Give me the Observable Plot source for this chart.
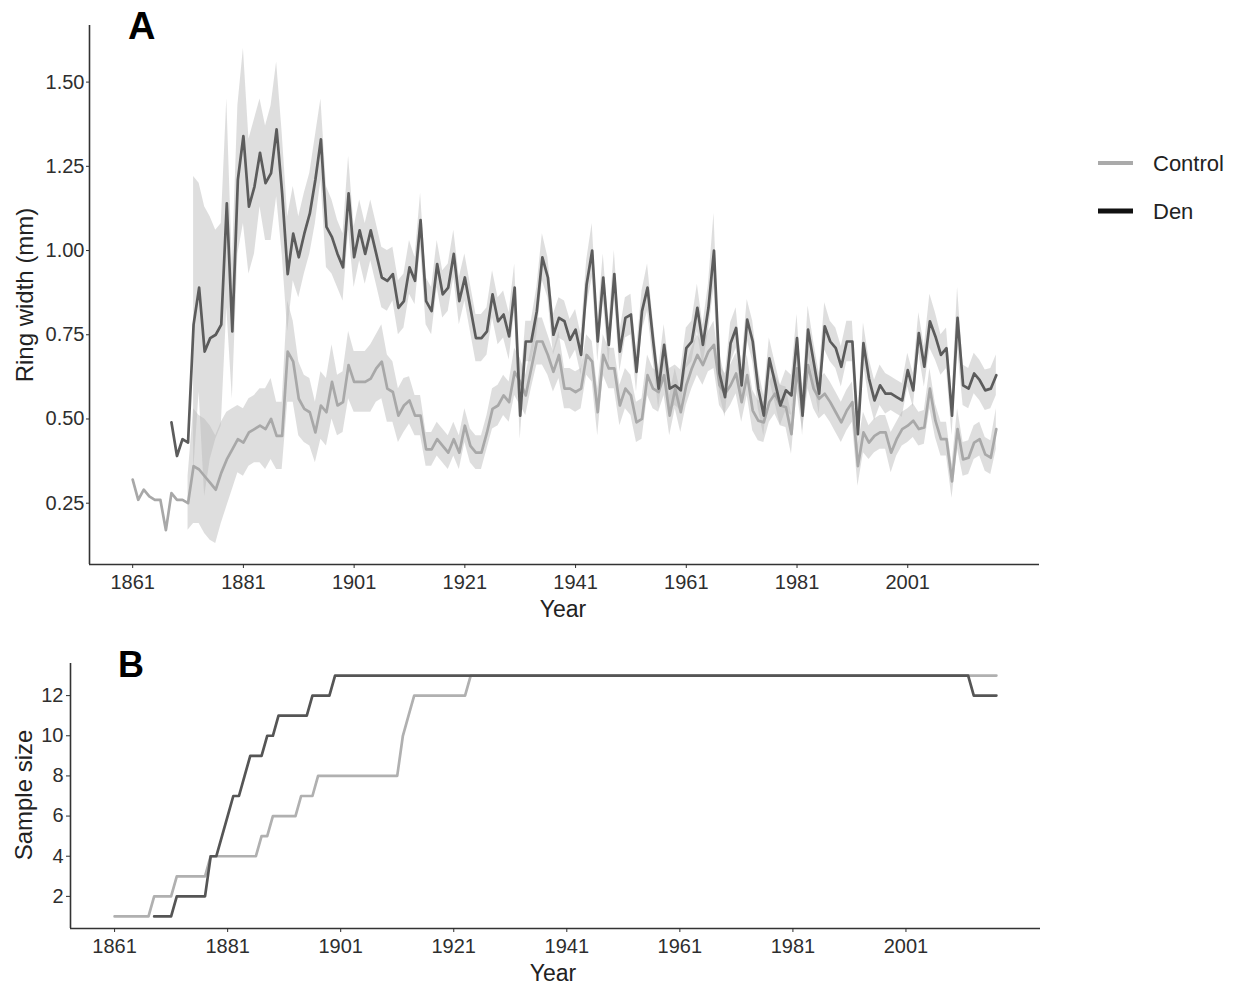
<!DOCTYPE html>
<html>
<head>
<meta charset="utf-8">
<script src="https://cdn.jsdelivr.net/npm/d3@7"></script>
<script src="https://cdn.jsdelivr.net/npm/@observablehq/plot@0.6"></script>
<style>
  body { margin: 0; background: #fff; }
  #wrap { position: relative; width: 1235px; height: 989px; overflow: hidden; }
  #wrap svg { position: absolute; left: 0; }
</style>
</head>
<body>
<div id="wrap"></div>
<script>
// ---------------- DATA ----------------
const controlStart = 1861;
const denStart = 1868;

// Panel A: mean ring width (mm)
const controlWidth = [
  0.32,0.26,0.29,0.27,0.26,0.26,0.17,0.28,0.26,0.26,
  0.25,0.36,0.35,0.33,0.31,0.29,0.34,0.38,0.41,0.44,
  0.43,0.46,0.47,0.48,0.47,0.50,0.45,0.45,0.70,0.67,
  0.56,0.53,0.52,0.46,0.54,0.52,0.61,0.54,0.55,0.66,
  0.61,0.61,0.61,0.62,0.65,0.67,0.59,0.58,0.51,0.54,
  0.555,0.51,0.51,0.41,0.41,0.44,0.42,0.40,0.44,0.40,
  0.48,0.42,0.40,0.40,0.46,0.53,0.54,0.57,0.55,0.64,
  0.61,0.57,0.65,0.73,0.73,0.69,0.64,0.69,0.59,0.59,
  0.58,0.59,0.69,0.67,0.52,0.69,0.65,0.65,0.54,0.59,
  0.57,0.49,0.50,0.63,0.59,0.58,0.63,0.51,0.59,0.52,
  0.60,0.65,0.69,0.66,0.70,0.72,0.60,0.575,0.60,0.635,
  0.55,0.63,0.525,0.495,0.49,0.55,0.575,0.54,0.535,0.455,
  0.65,0.525,0.66,0.59,0.56,0.575,0.55,0.52,0.49,0.525,
  0.55,0.36,0.46,0.43,0.45,0.46,0.46,0.40,0.44,0.47,
  0.48,0.495,0.47,0.475,0.59,0.495,0.44,0.44,0.315,0.47,
  0.38,0.385,0.43,0.44,0.395,0.385,0.47
];
const controlSE = [
  0,0,0,0,0,0,0,0,0,0,
  0.08,0.17,0.16,0.17,0.17,0.16,0.15,0.14,0.12,0.10,
  0.10,0.10,0.10,0.11,0.12,0.12,0.10,0.10,0.15,0.12,
  0.11,0.10,0.10,0.09,0.10,0.10,0.11,0.09,0.09,0.10,
  0.09,0.09,0.09,0.10,0.10,0.11,0.10,0.09,0.08,0.08,
  0.07,0.06,0.06,0.05,0.05,0.05,0.05,0.05,0.05,0.05,
  0.05,0.05,0.05,0.05,0.05,0.06,0.06,0.06,0.06,0.07,
  0.07,0.06,0.06,0.07,0.07,0.06,0.06,0.07,0.06,0.06,
  0.06,0.06,0.06,0.06,0.07,0.06,0.06,0.06,0.06,0.06,
  0.06,0.06,0.06,0.06,0.06,0.06,0.06,0.06,0.06,0.06,
  0.06,0.06,0.06,0.06,0.06,0.07,0.06,0.06,0.06,0.06,
  0.06,0.06,0.06,0.06,0.06,0.06,0.06,0.06,0.06,0.06,
  0.07,0.06,0.07,0.06,0.06,0.06,0.06,0.06,0.06,0.06,
  0.06,0.06,0.06,0.05,0.05,0.05,0.05,0.06,0.05,0.05,
  0.05,0.05,0.05,0.05,0.06,0.05,0.05,0.05,0.05,0.06,
  0.05,0.05,0.05,0.05,0.05,0.05,0.06
];
const denWidth = [
  0.49,0.39,0.44,
  0.43,0.78,0.89,0.70,0.74,0.75,0.78,1.14,0.76,1.21,
  1.34,1.13,1.19,1.29,1.20,1.23,1.36,1.17,0.93,1.05,
  0.98,1.05,1.11,1.21,1.33,1.07,1.04,0.99,0.95,1.17,
  0.98,1.06,0.99,1.06,0.99,0.92,0.91,0.93,0.83,0.85,
  0.95,0.91,1.09,0.85,0.82,0.96,0.87,0.89,0.99,0.85,
  0.92,0.83,0.74,0.74,0.76,0.87,0.79,0.81,0.745,0.89,
  0.51,0.73,0.73,0.82,0.98,0.92,0.75,0.80,0.79,0.735,
  0.765,0.69,0.90,1.00,0.73,0.92,0.72,0.93,0.70,0.80,
  0.81,0.64,0.82,0.89,0.735,0.59,0.72,0.59,0.60,0.585,
  0.71,0.73,0.83,0.72,0.83,1.00,0.635,0.565,0.725,0.77,
  0.60,0.795,0.73,0.59,0.51,0.68,0.61,0.54,0.585,0.57,
  0.74,0.51,0.765,0.67,0.575,0.775,0.73,0.71,0.655,0.73,
  0.73,0.455,0.725,0.62,0.555,0.60,0.575,0.575,0.565,0.555,
  0.645,0.585,0.755,0.655,0.79,0.745,0.69,0.71,0.51,0.80,
  0.60,0.59,0.635,0.615,0.585,0.59,0.63
];
const denSE = [
  0,0,0,
  0,0.44,0.31,0.43,0.36,0.31,0.30,0.31,0.20,0.22,
  0.26,0.20,0.20,0.16,0.17,0.20,0.20,0.18,0.17,0.14,
  0.12,0.12,0.12,0.13,0.12,0.12,0.11,0.10,0.10,0.11,
  0.09,0.09,0.09,0.09,0.09,0.09,0.09,0.08,0.08,0.08,
  0.08,0.07,0.08,0.07,0.07,0.07,0.07,0.07,0.07,0.07,
  0.07,0.07,0.07,0.07,0.07,0.07,0.07,0.07,0.07,0.07,
  0.07,0.06,0.06,0.07,0.07,0.06,0.06,0.06,0.06,0.06,
  0.06,0.06,0.07,0.08,0.06,0.07,0.06,0.07,0.06,0.06,
  0.06,0.06,0.06,0.07,0.06,0.06,0.06,0.06,0.06,0.06,
  0.06,0.06,0.07,0.06,0.07,0.11,0.06,0.06,0.06,0.06,
  0.06,0.06,0.06,0.06,0.06,0.06,0.06,0.06,0.06,0.06,
  0.07,0.06,0.07,0.06,0.06,0.07,0.06,0.06,0.06,0.06,
  0.06,0.06,0.06,0.06,0.06,0.06,0.06,0.05,0.05,0.05,
  0.05,0.05,0.06,0.06,0.08,0.07,0.06,0.06,0.06,0.09,
  0.06,0.06,0.06,0.06,0.06,0.06,0.06
];

// Panel B: sample size per year
const controlN = [
  1,1,1,1,1,1,1,2,2,2,
  2,3,3,3,3,3,3,4,4,4,
  4,4,4,4,4,4,5,5,6,6,
  6,6,6,7,7,7,8,8,8,8,
  8,8,8,8,8,8,8,8,8,8,
  8,10,11,12,12,12,12,12,12,12,
  12,12,12,13,13,13,13,13,13,13,
  13,13,13,13,13,13,13,13,13,13,
  13,13,13,13,13,13,13,13,13,13,
  13,13,13,13,13,13,13,13,13,13,
  13,13,13,13,13,13,13,13,13,13,
  13,13,13,13,13,13,13,13,13,13,
  13,13,13,13,13,13,13,13,13,13,
  13,13,13,13,13,13,13,13,13,13,
  13,13,13,13,13,13,13,13,13,13,
  13,13,13,13,13,13,13
];
const denN = [
  1,1,1,
  1,2,2,2,2,2,2,4,4,5,
  6,7,7,8,9,9,9,10,10,11,
  11,11,11,11,11,12,12,12,12,13,
  13,13,13,13,13,13,13,13,13,13,
  13,13,13,13,13,13,13,13,13,13,
  13,13,13,13,13,13,13,13,13,13,
  13,13,13,13,13,13,13,13,13,13,
  13,13,13,13,13,13,13,13,13,13,
  13,13,13,13,13,13,13,13,13,13,
  13,13,13,13,13,13,13,13,13,13,
  13,13,13,13,13,13,13,13,13,13,
  13,13,13,13,13,13,13,13,13,13,
  13,13,13,13,13,13,13,13,13,13,
  13,13,13,13,13,13,13,13,13,13,
  13,13,12,12,12,12,12
];

const seriesNames = ["Control", "Den"];
const xTicks = [1861, 1881, 1901, 1921, 1941, 1961, 1981, 2001];
const ringTicks = [0.25, 0.50, 0.75, 1.00, 1.25, 1.50];
const sizeTicks = [2, 4, 6, 8, 10, 12];

// ---------------- BUILD TABLES ----------------
const ring = [];
controlWidth.forEach((v, i) => ring.push({series: "Control", year: controlStart + i, value: v, se: controlSE[i]}));
denWidth.forEach((v, i) => ring.push({series: "Den", year: denStart + i, value: v, se: denSE[i]}));
const sizes = [];
controlN.forEach((n, i) => sizes.push({series: "Control", year: controlStart + i, n}));
denN.forEach((n, i) => sizes.push({series: "Den", year: denStart + i, n}));

const xDomain = [1853.2, 2024.8];
const font = '"Liberation Sans", Arial, Helvetica, sans-serif';
const lineColors = ["#a8a8a8", "#5c5c5c"];
const wrap = document.getElementById("wrap");

// ---------------- PANEL A ----------------
const yA = [0.068, 1.668];
const plotA = Plot.plot({
  width: 1060, height: 620,
  marginLeft: 89, marginRight: 21, marginTop: 25, marginBottom: 56,
  style: {fontFamily: font, fontSize: "20px", color: "#2e2e2e", background: "transparent", overflow: "visible"},
  x: {domain: xDomain},
  y: {domain: yA},
  color: {domain: seriesNames, range: lineColors},
  marks: [
    Plot.areaY(ring.filter(d => d.se > 0), {
      x: "year", y1: d => d.value - d.se, y2: d => d.value + d.se,
      z: "series", fill: "#bababa", fillOpacity: 0.48
    }),
    Plot.lineY(ring, {x: "year", y: "value", z: "series", stroke: "series", strokeWidth: 2.7, strokeLinejoin: "round"}),
    Plot.ruleY([yA[0]], {stroke: "#333", strokeWidth: 1.6}),
    Plot.ruleX([xDomain[0]], {stroke: "#333", strokeWidth: 1.6}),
    Plot.axisX({ticks: xTicks, tickFormat: d => String(d), tickSize: 4, tickPadding: 6, fontSize: 20, label: null}),
    Plot.axisY({ticks: ringTicks, tickFormat: d3.format(".2f"), tickSize: 3, tickPadding: 2, fontSize: 20, label: null})
  ]
});
plotA.style.top = "0px";
wrap.appendChild(plotA);

// ---------------- PANEL B ----------------
const yB = [0.4, 13.6];
const plotB = Plot.plot({
  width: 1060, height: 359,
  marginLeft: 70, marginRight: 20, marginTop: 33, marginBottom: 61,
  style: {fontFamily: font, fontSize: "20px", color: "#2e2e2e", background: "transparent", overflow: "visible"},
  x: {domain: xDomain},
  y: {domain: yB},
  color: {domain: seriesNames, range: ["#b0b0b0", "#555555"]},
  marks: [
    Plot.lineY(sizes, {x: "year", y: "n", z: "series", stroke: "series", strokeWidth: 2.7}),
    Plot.ruleY([yB[0]], {stroke: "#333", strokeWidth: 1.6}),
    Plot.ruleX([xDomain[0]], {stroke: "#333", strokeWidth: 1.6}),
    Plot.axisX({ticks: xTicks, tickFormat: d => String(d), tickSize: 4, tickPadding: 6, fontSize: 20, label: null}),
    Plot.axisY({ticks: sizeTicks, tickFormat: d => String(d), tickSize: 4, tickPadding: 3, fontSize: 20, label: null})
  ]
});
plotB.style.top = "630px";
wrap.appendChild(plotB);

// ---------------- TITLES, PANEL LETTERS, LEGEND ----------------
const over = d3.select(wrap).append("svg")
  .attr("width", 1235).attr("height", 989)
  .style("top", "0px").style("pointer-events", "none")
  .style("font-family", font);

over.append("text").attr("x", 128).attr("y", 39).attr("font-size", 38).attr("font-weight", "bold").attr("fill", "#000").text("A");
over.append("text").attr("x", 118).attr("y", 677).attr("font-size", 36).attr("font-weight", "bold").attr("fill", "#000").text("B");

over.append("text").attr("transform", "translate(33,295) rotate(-90)").attr("text-anchor", "middle")
  .attr("font-size", 24).attr("fill", "#222").text("Ring width (mm)");
over.append("text").attr("x", 563).attr("y", 617).attr("text-anchor", "middle")
  .attr("font-size", 23).attr("fill", "#222").text("Year");

over.append("text").attr("transform", "translate(32,795) rotate(-90)").attr("text-anchor", "middle")
  .attr("font-size", 24).attr("fill", "#222").text("Sample size");
over.append("text").attr("x", 553).attr("y", 981).attr("text-anchor", "middle")
  .attr("font-size", 23).attr("fill", "#222").text("Year");

const legendKeys = [
  {name: seriesNames[0], color: "#aaaaaa", width: 4, y: 163},
  {name: seriesNames[1], color: "#111111", width: 5, y: 211}
];
legendKeys.forEach(k => {
  over.append("line").attr("x1", 1098).attr("x2", 1133).attr("y1", k.y).attr("y2", k.y)
    .attr("stroke", k.color).attr("stroke-width", k.width);
  over.append("text").attr("x", 1153).attr("y", k.y + 8).attr("font-size", 22).attr("fill", "#222").text(k.name);
});
</script>
</body>
</html>
